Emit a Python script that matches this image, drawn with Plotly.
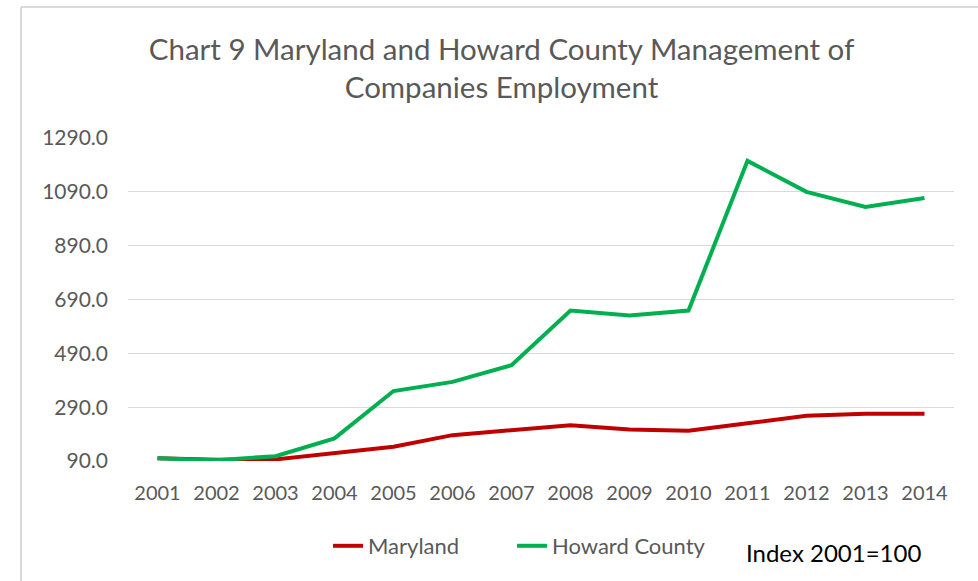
import plotly.graph_objects as go

years = ["2001", "2002", "2003", "2004", "2005", "2006", "2007",
         "2008", "2009", "2010", "2011", "2012", "2013", "2014"]
maryland = [100, 95, 96, 118, 143, 186, 205, 223, 207, 202, 230, 258, 266, 266]
howard = [100, 93, 108, 174, 350, 384, 446, 649, 631, 649, 1205, 1090, 1034, 1067]
y_ticks = [90, 290, 490, 690, 890, 1090, 1290]

FONT = "Lato"
W, H = 978, 581
L, R, T, B = 128, 24, 138, 120
PW, PH = W - L - R, H - T - B


def px_x(x):
    return (x - L) / PW


def px_y(y):
    return (H - B - y) / PH


fig = go.Figure()
fig.add_trace(go.Scatter(x=years, y=maryland, mode="lines", name="Maryland",
                         line=dict(color="#C00000", width=4), legend="legend"))
fig.add_trace(go.Scatter(x=years, y=howard, mode="lines", name="Howard County",
                         line=dict(color="#00B050", width=4), legend="legend2"))

legend_style = dict(orientation="h", yanchor="middle", y=px_y(546), xanchor="left",
                    font=dict(size=22, color="#595959"), bgcolor="rgba(0,0,0,0)")

fig.update_layout(
    width=W, height=H,
    margin=dict(l=L, r=R, t=T, b=B),
    paper_bgcolor="white", plot_bgcolor="white",
    font=dict(family=FONT, color="#595959"),
    title=dict(text="Chart 9 Maryland and Howard County Management of<br>Companies Employment",
               x=501.5 / W, xanchor="center", xref="container",
               y=1 - 60 / H, yanchor="middle", yref="container",
               font=dict(family=FONT, size=29.5, color="#595959")),
    xaxis=dict(type="category", range=[-0.5, 13.5], showgrid=False,
               showline=False, ticks="", ticklabelstandoff=18,
               tickfont=dict(size=20, color="#595959")),
    yaxis=dict(range=[90, 1290], tickvals=y_ticks,
               ticktext=[f"{v:.1f}" for v in y_ticks],
               showgrid=True, gridcolor="#D9D9D9", gridwidth=1,
               zeroline=False, showline=False, ticks="", ticklabelstandoff=19,
               tickfont=dict(size=21, color="#595959")),
    showlegend=True,
    legend=dict(legend_style, x=px_x(328)),
    legend2=dict(legend_style, x=px_x(512)),
)

fig.add_annotation(text="Index 2001=100", xref="paper", yref="paper",
                   x=px_x(923), xanchor="right", y=px_y(552), yanchor="middle",
                   showarrow=False, font=dict(family=FONT, size=24, color="black"))

# outer chart border (top and left visible)
fig.add_shape(type="line", xref="paper", yref="paper",
              x0=px_x(21), x1=px_x(W + 5), y0=px_y(7), y1=px_y(7),
              line=dict(color="#D9D9D9", width=2))
fig.add_shape(type="line", xref="paper", yref="paper",
              x0=px_x(21), x1=px_x(21), y0=px_y(7), y1=px_y(H + 5),
              line=dict(color="#D9D9D9", width=2))

fig.write_html("out.html", config={"displayModeBar": False},
               post_script="document.body.style.margin='0';")
